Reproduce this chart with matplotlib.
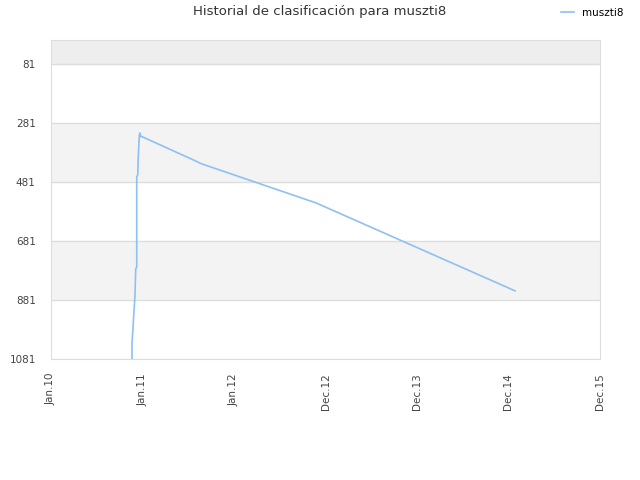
import matplotlib
matplotlib.use('Agg')
import matplotlib.pyplot as plt
from matplotlib.lines import Line2D

# x positions measured in tick-slots (Jan.10 = 0 ... Dec.15 = 6)
tick_labels = ['Jan.10', 'Jan.11', 'Jan.12', 'Dec.12', 'Dec.13', 'Dec.14', 'Dec.15']
y_ticks = [81, 281, 481, 681, 881, 1081]

# ranking history of muszti8
x_vals = [0.885, 0.885, 0.893, 0.904, 0.910, 0.918, 0.926, 0.937, 0.937,
          0.948, 0.954, 0.965, 0.973, 0.980, 0.991, 1.560, 1.640, 2.896, 5.071]
rank = [1081, 1027, 993, 932, 905, 864, 776, 769, 464,
        457, 396, 322, 315, 328, 327, 407, 419, 552, 850]

fig = plt.figure(figsize=(6.4, 4.8), dpi=100)
ax = fig.add_axes([51/640, 1-359/480, 549/640, 319/480])

# alternating bands
ax.axhspan(0, 81, color='#eeeeee', zorder=0)
for i in range(len(y_ticks)-1):
    if i % 2 == 1:
        ax.axhspan(y_ticks[i], y_ticks[i+1], color='#f3f3f3', zorder=0)
for t in y_ticks:
    ax.axhline(t, color='#dddddd', lw=0.9, zorder=1)

ax.plot(x_vals, rank, color='#8ec0f2', lw=1.2, zorder=3)

ax.set_xlim(0, 6)
ax.set_ylim(1081, 0)
ax.set_yticks(y_ticks)
ax.set_yticklabels([str(t) for t in y_ticks])
ax.set_xticks(range(len(tick_labels)))
ax.set_xticklabels(tick_labels, rotation=90)
ax.tick_params(axis='both', length=0, labelsize=7.5, colors='#444444')
ax.tick_params(axis='x', pad=10)
ax.tick_params(axis='y', pad=11)
for s in ax.spines.values():
    s.set_color('#dddddd')

fig.text(0.5, 1-12/480, 'Historial de clasificación para muszti8',
         ha='center', va='center', fontsize=9.5, color='#333333')

handle = Line2D([], [], color='#8ec0f2', lw=1.2)
fig.legend([handle], ['muszti8'], loc='center left', bbox_to_anchor=(552/640, 1-13/480),
           frameon=False, fontsize=7.5, handlelength=1.2, handletextpad=0.8)

fig.savefig('out.png', dpi=100)
